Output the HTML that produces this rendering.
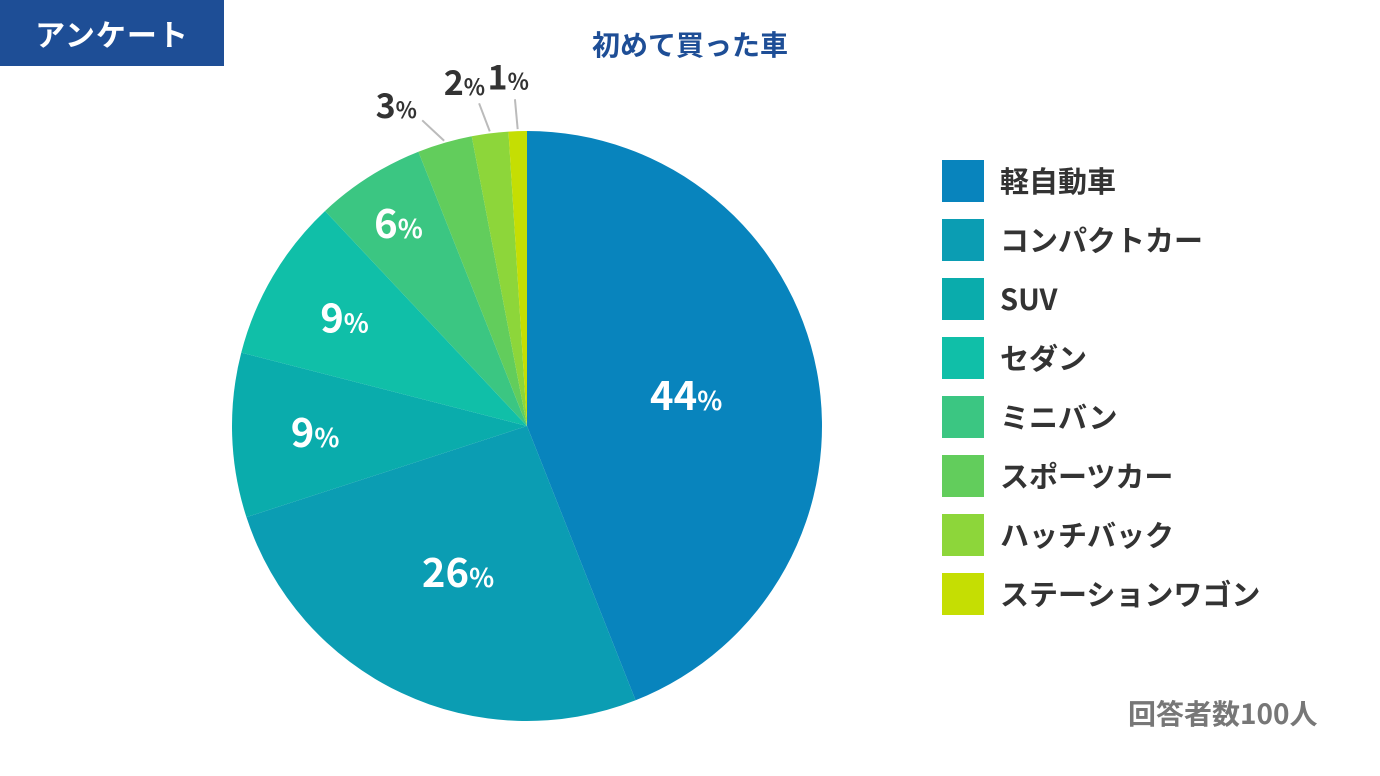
<!DOCTYPE html>
<html><head><meta charset="utf-8"><style>
body{margin:0;width:1380px;height:776px;background:#fff;overflow:hidden;font-family:"Noto Sans CJK JP","Liberation Sans",sans-serif;}
#tag{position:absolute;left:0;top:0;width:224px;height:66px;background:#1e4e96;color:#fff;font-weight:bold;font-size:30px;line-height:66px;text-align:center;letter-spacing:1px}
#title{position:absolute;left:540px;top:24px;width:300px;text-align:center;color:#1e4e96;font-weight:bold;font-size:28px;line-height:40px}
#note{position:absolute;left:1128px;top:693px;color:#777;font-weight:bold;font-size:28px;line-height:40px}
</style></head><body>
<div id="tag">アンケート</div>
<div id="title">初めて買った車</div>
<svg id="chart" width="1380" height="776" style="position:absolute;left:0;top:0;font-family:'Noto Sans CJK JP','Liberation Sans',sans-serif"></svg>
<div id="note">回答者数100人</div>
<script>
const categories=["軽自動車","コンパクトカー","SUV","セダン","ミニバン","スポーツカー","ハッチバック","ステーションワゴン"];
const values=[44,26,9,9,6,3,2,1];
const colors=["#0884bd","#0b9db3","#0aacac","#10bfa8","#3bc682","#62cd5c","#8dd63a","#c5de03"];
const NS="http://www.w3.org/2000/svg";
const svg=document.getElementById('chart');
const cx=527,cy=426,R=295;
const total=values.reduce((a,b)=>a+b,0);
function pt(a,r){return [cx+r*Math.sin(a),cy-r*Math.cos(a)];}
function mk(t,attrs){const e=document.createElementNS(NS,t);for(const k in attrs)e.setAttribute(k,attrs[k]);svg.appendChild(e);return e;}
let acc=0;
values.forEach((v,i)=>{
 const a0=acc/total*2*Math.PI;acc+=v;const a1=acc/total*2*Math.PI;
 const p0=pt(a0,R),p1=pt(a1,R);
 const p=mk('path',{d:`M${cx},${cy}L${p0[0]},${p0[1]}A${R},${R} 0 ${a1-a0>Math.PI?1:0} 1 ${p1[0]},${p1[1]}Z`,fill:colors[i]});
 
 
 const am=(a0+a1)/2;
 let tp,fill,size;
 if(v>=5){tp=pt(am,v>20?162:Math.max(205,212+(9-v)*9.3));fill='#fff';size=40;}
 else{
  const rel=am-2*Math.PI;
  const dir=rel*2.9;
  const l0=pt(am,R+2);
  const l1=[l0[0]+30*Math.sin(dir),l0[1]-30*Math.cos(dir)];
  const ln=mk('line',{x1:l0[0],y1:l0[1],x2:l1[0],y2:l1[1],stroke:'#bbb','stroke-width':2});
  
  
  tp=[l1[0]+30*Math.sin(dir)-4,l1[1]-24*Math.cos(dir)+2];fill='#333';size=34;
 }
 const t=mk('text',{x:tp[0],y:tp[1]+size*0.36,'text-anchor':'middle',fill:fill,'font-weight':'bold','font-size':size});
 
 
 t.innerHTML=v+'<tspan font-size="'+(size*0.65)+'">%</tspan>';
});
categories.forEach((c,i)=>{
 const y=160+i*59;
 const r=mk('rect',{x:942,y:y,width:42,height:42,fill:colors[i]});
 
 
 const t=mk('text',{x:1000,y:y+32,fill:'#333','font-weight':'bold','font-size':29});
 
 
 t.textContent=c;
});
</script>
</body></html>
